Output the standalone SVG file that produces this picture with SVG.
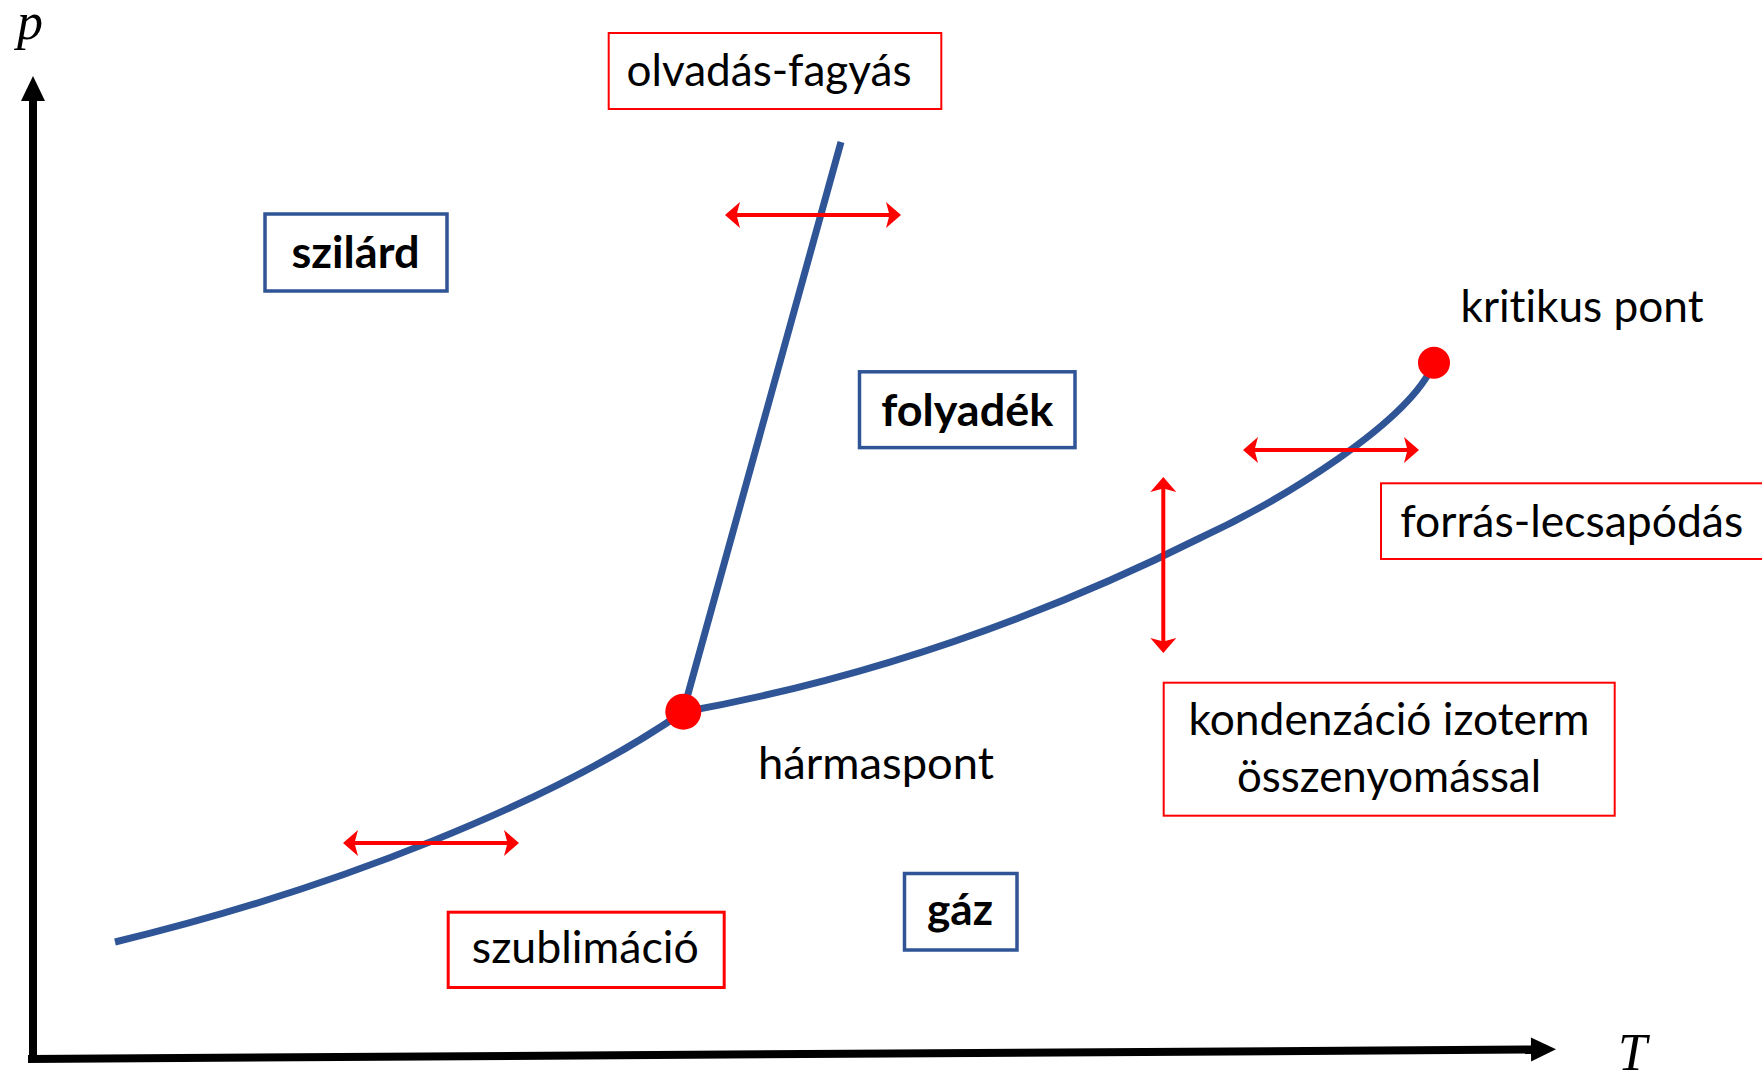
<svg xmlns="http://www.w3.org/2000/svg" width="1762" height="1073" viewBox="0 0 1762 1073">
<style>
  .lbl { font-family: Lato, "Liberation Sans", sans-serif; font-size: 44px; fill: #000; text-anchor: middle; font-variant-ligatures: none; }
  .bold { font-weight: bold; }
  .ax { font-family: "Liberation Serif", "DejaVu Serif", serif; font-style: italic; font-size: 52px; fill: #000; }
  .bbox { fill: none; stroke: #2F5597; stroke-width: 3.5; }
  .rbox { fill: none; stroke: #FF0000; stroke-width: 2; }
  .curve { fill: none; stroke: #2F5597; stroke-width: 7; }
  .rarrow { fill: none; stroke: #FF0000; stroke-width: 4; marker-start: url(#rhead); marker-end: url(#rhead); }
  .axis { fill: none; stroke: #000; stroke-width: 8; }
  .dot { fill: #FF0000; }
</style>
<defs>
  <marker id="rhead" markerUnits="userSpaceOnUse" viewBox="-6 -14 17 28" refX="0" refY="0" markerWidth="17" markerHeight="28" orient="auto-start-reverse" overflow="visible">
    <path d="M10,0 L-5,-13 L-1.5,0 L-5,13 Z" fill="#FF0000"/>
  </marker>
  <marker id="khead" markerUnits="userSpaceOnUse" viewBox="0 -13 25 26" refX="0" refY="0" markerWidth="25" markerHeight="26" orient="auto" overflow="visible">
    <path d="M24,0 L-1,-12 L-1,12 Z" fill="#000"/>
  </marker>
</defs>
<rect width="1762" height="1073" fill="#fff"/>

<g id="connectors">
  <line class="axis" x1="33" y1="1057" x2="33" y2="100" marker-end="url(#khead)"/>
  <line class="axis" x1="28" y1="1059" x2="1532" y2="1049.5" marker-end="url(#khead)"/>
  <path class="curve" d="M115,942 C335,889 553,802 683,712"/>
  <path class="curve" d="M683,712 C855,681 1028,624 1200,538 C1280,501 1409,423 1434,363"/>
  <path class="curve" d="M683,712 L841,142"/>
  <line class="rarrow" x1="735" y1="215" x2="891" y2="215"/>
  <line class="rarrow" x1="353" y1="843" x2="509" y2="843"/>
  <line class="rarrow" x1="1163.3" y1="487" x2="1163.3" y2="643"/>
  <line class="rarrow" x1="1253" y1="450" x2="1409" y2="450"/>
</g>

<g id="triple-point"><circle class="dot" cx="683.3" cy="711.7" r="18"/></g>
<g id="critical-point"><circle class="dot" cx="1434" cy="362.7" r="16"/></g>

<g id="axis-p"><text class="ax" x="17" y="39">p</text></g>
<g id="axis-T"><text class="ax" x="1618" y="1070">T</text></g>

<g id="szilard">
  <rect class="bbox" x="265" y="214" width="182" height="77"/>
  <text class="lbl bold" x="355.5" y="268" textLength="128" lengthAdjust="spacingAndGlyphs">szilárd</text>
</g>
<g id="folyadek">
  <rect class="bbox" x="859.5" y="371.8" width="215.5" height="75.8"/>
  <text class="lbl bold" x="967.2" y="426" textLength="172" lengthAdjust="spacingAndGlyphs">folyadék</text>
</g>
<g id="gaz">
  <rect class="bbox" x="904.5" y="873.5" width="112.5" height="76.5"/>
  <text class="lbl bold" x="960" y="925" textLength="66" lengthAdjust="spacingAndGlyphs">gáz</text>
</g>
<g id="olvadas-fagyas">
  <rect class="rbox" x="608.7" y="33" width="332.6" height="76"/>
  <text class="lbl" x="769" y="86" textLength="285" lengthAdjust="spacingAndGlyphs">olvadás-fagyás</text>
</g>
<g id="forras-lecsapodas">
  <rect class="rbox" x="1381" y="483.3" width="400" height="75.7"/>
  <text class="lbl" x="1571.7" y="536.7" textLength="343" lengthAdjust="spacingAndGlyphs">forrás-lecsapódás</text>
</g>
<g id="kondenzacio">
  <rect class="rbox" x="1163.7" y="682.7" width="451" height="133"/>
  <text class="lbl" x="1389" y="735" textLength="401" lengthAdjust="spacingAndGlyphs">kondenzáció izoterm</text>
  <text class="lbl" x="1389" y="791.7" textLength="304" lengthAdjust="spacingAndGlyphs">összenyomással</text>
</g>
<g id="szublimacio">
  <rect class="rbox" style="stroke-width:3" x="448.2" y="912.2" width="276" height="75.3"/>
  <text class="lbl" x="585.3" y="963.3" textLength="227" lengthAdjust="spacingAndGlyphs">szublimáció</text>
</g>
<g id="kritikus-pont-label">
  <text class="lbl" x="1582" y="321.7" textLength="243" lengthAdjust="spacingAndGlyphs">kritikus pont</text>
</g>
<g id="harmaspont-label">
  <text class="lbl" x="876" y="779.3" textLength="236" lengthAdjust="spacingAndGlyphs">hármaspont</text>
</g>
</svg>
